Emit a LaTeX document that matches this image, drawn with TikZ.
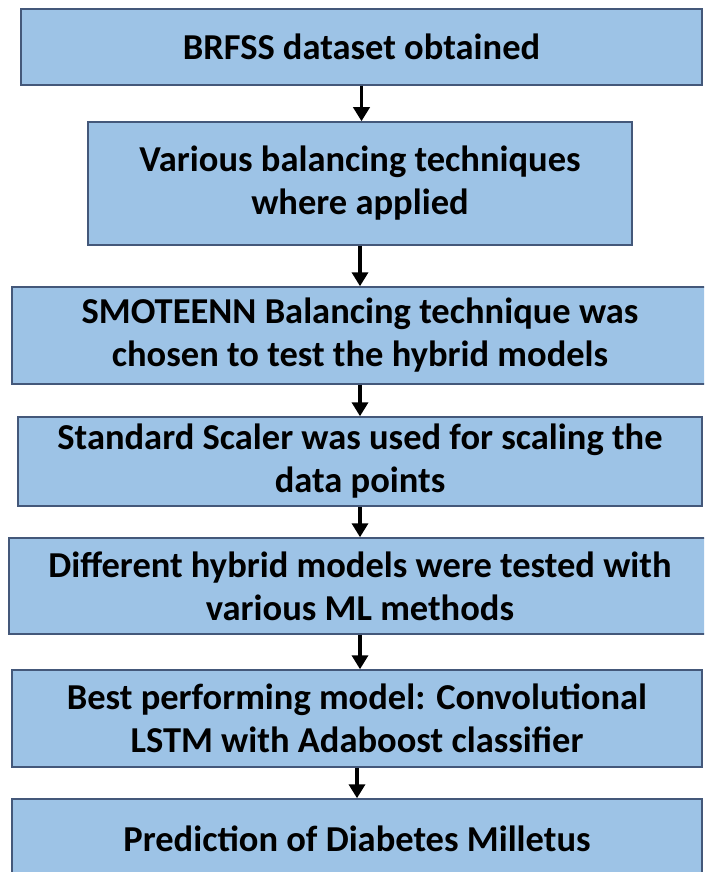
\documentclass[tikz,border=0pt]{standalone}
\usepackage{fontspec}
\setmainfont{Carlito}
\usepackage{xcolor}
\usepackage{tikz}
\usetikzlibrary{arrows.meta,positioning}

\definecolor{boxfill}{HTML}{9DC3E6}
\definecolor{boxline}{HTML}{44587A}

\begin{document}
\begin{tikzpicture}[x=1pt,y=-1pt,
  stage/.style={draw=boxline,fill=boxfill,line width=1.5pt,align=center,inner sep=0pt,
    font=\bfseries\fontsize{36.5}{43}\selectfont},
  flow/.style={-{Triangle[length=14pt,width=16pt]},line width=3.5pt}]
\clip(0,0)rectangle(704,872);
\node[stage,minimum width=681,minimum height=76](data)at(361.5,47){BRFSS dataset obtained};
\node[stage,minimum width=544,minimum height=123](bal)at(360,183.5){Various balancing techniques\\where applied};
\node[stage,minimum width=696,minimum height=97](smote)at(360,335.5){SMOTEENN Balancing technique was\\chosen to test the hybrid models};
\node[stage,minimum width=684,minimum height=89](scale)at(360,461.5){Standard Scaler was used for scaling the\\data points};
\node[stage,minimum width=702,minimum height=96](hybrid)at(360,586){Different hybrid models were tested with\\various ML methods};
\node[stage,minimum width=690,minimum height=97](best)at(357,718.5){Best performing model: Convolutional\\LSTM with Adaboost classifier};
\node[stage,minimum width=690,minimum height=80](pred)at(357,839){Prediction of Diabetes Milletus};
% arrows between the stages
\draw[flow](data.south)--(data.south|-bal.north);
\draw[flow](bal.south)--(bal.south|-smote.north);
\draw[flow](smote.south)--(smote.south|-scale.north);
\draw[flow](scale.south)--(scale.south|-hybrid.north);
\draw[flow](hybrid.south)--(hybrid.south|-best.north);
\draw[flow](best.south)--(best.south|-pred.north);
\end{tikzpicture}
\end{document}
